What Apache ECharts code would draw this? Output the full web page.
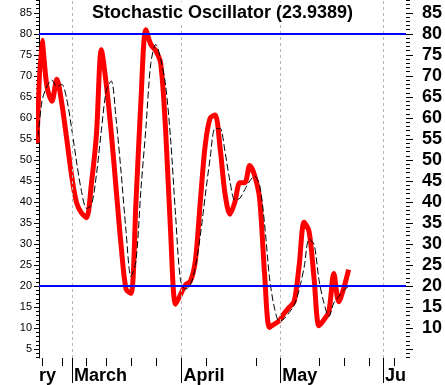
<!DOCTYPE html>
<html><head><meta charset="utf-8">
<script src="https://cdn.jsdelivr.net/npm/echarts@6/dist/echarts.min.js"></script>
<style>html,body{margin:0;padding:0;background:#fff}#c{width:445px;height:385px}</style>
</head><body><div id="c"></div>
<script>
// %K (red) and %D (black dashed), one value per trading day
const percentK = [54,78.5,67.5,64,69.2,63.5,55,46.2,39.8,37.4,36.3,44.5,56,76.2,68,56.5,43,29.6,19.3,18.3,40,64,81,77.5,76,73,57,33,15.7,18,20.3,21.2,26,40,53.5,60,60.7,53,42,37.1,40,44.6,44.6,48.7,46.3,40.8,23,10.2,11,11.8,13.6,15,16.4,25,35.2,33,22,10.6,12,14,23,16.3,19.5,23.94];
const percentD = [53,64,67.5,69,67.5,68,64.5,57.5,49.5,42.5,38.5,39.3,46.5,57,66.5,68.8,59.5,47,33,22.3,26,43,57.5,73,77.5,74,67.7,55,37,21.5,19.3,20.3,24.5,32,41.5,50.5,57.5,57.5,52,45,40.5,40.9,43,45,46.2,44,34.8,22,14.8,11.6,12.3,13.8,15.5,19.2,24.5,31.2,30,21.5,16,12.8,16,17.5,19,20];
const monthLabels = ['ry','March','April','May','Ju'];
const monthStarts = [0.395,7.05,29.23,49.19,69.95];
const weekTicks = [1.0,5.03,9.87,13.9,18.95,24.2,34.27,44.35,57.05,62.09,67.13,72.17];
const leftTickLabels = [5,10,15,20,25,30,35,40,45,50,55,60,65,70,75,80,85];
const rightTickLabels = [10,15,20,25,30,35,40,45,50,55,60,65,70,75,80,85];
const refLevels = [80,20];
const titleText = 'Stochastic Oscillator (23.9389)';

const XMIN = 0.395, XMAX = 74.59, YMIN = 2.925, YMAX = 88.06;
const minorTicks = [];
for (let v = 3; v <= 88; v++) minorTicks.push(v);
const labelPos = monthStarts.map((m,i)=> i===0 ? m : m + 0.4);
const FONT = 'Liberation Sans, Arial, sans-serif';

const chart = echarts.init(document.getElementById('c'), null, {renderer:'canvas'});
chart.setOption({
  animation:false,
  backgroundColor:'#fff',
  title:{text:titleText,left:'center',top:2,padding:[2,3],backgroundColor:'#fff',
    textStyle:{fontSize:18,fontWeight:'bold',color:'#000',fontFamily:FONT}},
  grid:{left:39,right:38,top:0,bottom:26,containLabel:false},
  xAxis:[
    {type:'value',min:XMIN,max:XMAX,position:'bottom',axisLine:{show:false},splitLine:{show:false},
     axisTick:{show:true,customValues:monthStarts.slice(1),length:25,lineStyle:{color:'#000',width:1}},
     axisLabel:{show:true,customValues:labelPos,align:'left',fontSize:18,fontWeight:'bold',color:'#000',
       fontFamily:FONT,margin:9,
       formatter:(v)=>{let k=0,b=1e9;labelPos.forEach((p,i)=>{if(Math.abs(p-v)<b){b=Math.abs(p-v);k=i;}});return monthLabels[k];}}},
    {type:'value',min:XMIN,max:XMAX,position:'bottom',axisLine:{show:false},splitLine:{show:false},axisLabel:{show:false},
     axisTick:{show:true,customValues:weekTicks,length:8,lineStyle:{color:'#000',width:1}}}
  ],
  yAxis:[
    {type:'value',min:YMIN,max:YMAX,position:'left',axisLine:{show:true,lineStyle:{color:'#000',width:1}},splitLine:{show:false},
     axisTick:{show:true,customValues:leftTickLabels,length:5,lineStyle:{color:'#000'}},
     axisLabel:{show:true,customValues:leftTickLabels,fontSize:11,color:'#000',fontFamily:FONT,margin:7}},
    {type:'value',min:YMIN,max:YMAX,position:'left',axisLine:{show:false},splitLine:{show:false},axisLabel:{show:false},
     axisTick:{show:true,customValues:minorTicks,length:3,lineStyle:{color:'#000'}}},
    {type:'value',min:YMIN,max:YMAX,position:'right',axisLine:{show:false},splitLine:{show:false},
     axisTick:{show:true,customValues:leftTickLabels,length:7,lineStyle:{color:'#000'}},
     axisLabel:{show:true,customValues:rightTickLabels,fontSize:18,fontWeight:'bold',color:'#000',fontFamily:FONT,margin:16}},
    {type:'value',min:YMIN,max:YMAX,position:'right',axisLine:{show:false},splitLine:{show:false},axisLabel:{show:false},
     axisTick:{show:true,customValues:minorTicks,length:4,lineStyle:{color:'#000'}}}
  ],
  series:[
    {type:'line',data:[],xAxisIndex:0,yAxisIndex:0,z:1,silent:true,
     markLine:{silent:true,symbol:'none',label:{show:false},animation:false,
       data:[
         ...monthStarts.slice(1).map(m=>({xAxis:m,lineStyle:{color:'#b4b4b4',width:1,type:[3,3]}})),
         ...refLevels.map(l=>({yAxis:l,lineStyle:{color:'#0000ff',width:2,type:'solid'}}))
       ]}},
    {type:'line',name:'%K',data:percentK.map((v,i)=>[i,v]),xAxisIndex:0,yAxisIndex:0,z:3,clip:true,smooth:0.3,
     symbol:'none',lineStyle:{color:'#ff0000',width:5,join:'round'},itemStyle:{color:'#ff0000'}},
    {type:'line',name:'%D',data:percentD.map((v,i)=>[i,v]),xAxisIndex:0,yAxisIndex:0,z:4,clip:true,smooth:0.3,
     symbol:'none',lineStyle:{color:'#000',width:1,type:[7,3]},itemStyle:{color:'#000'}}
  ]
});
</script></body></html>
